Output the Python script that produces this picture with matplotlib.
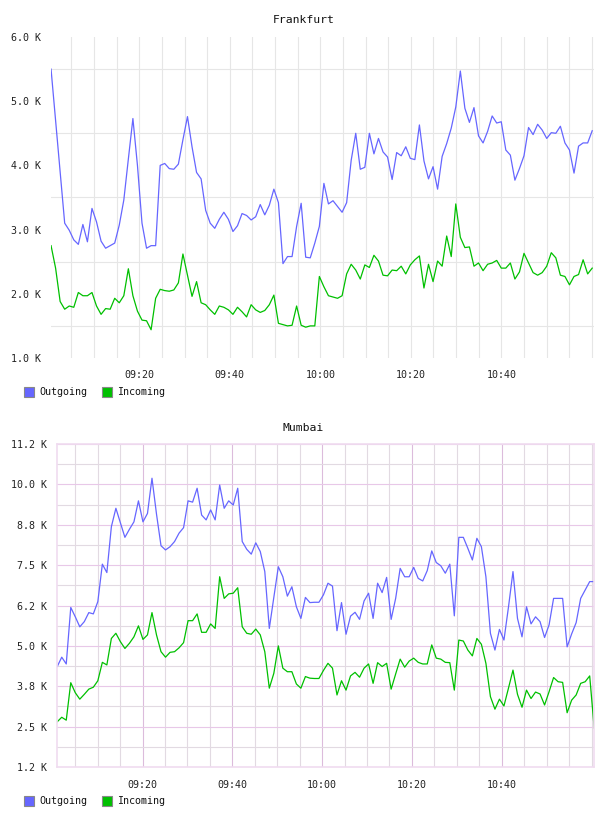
import matplotlib
matplotlib.use("Agg")
import matplotlib.pyplot as plt
from matplotlib.patches import Rectangle
import numpy as np

# values in K, one sample per minute starting ~09:00
fra_out = [5.50, 4.70, 3.90, 3.10, 2.99, 2.84, 2.77, 3.08, 2.81, 3.33,
           3.12, 2.82, 2.71, 2.75, 2.79, 3.07, 3.46, 4.10, 4.73, 4.00,
           3.10, 2.71, 2.75, 2.75, 4.00, 4.03, 3.95, 3.94, 4.02, 4.40,
           4.76, 4.29, 3.89, 3.79, 3.30, 3.10, 3.02, 3.16, 3.27, 3.16,
           2.97, 3.06, 3.25, 3.22, 3.15, 3.20, 3.39, 3.23, 3.38, 3.63,
           3.42, 2.47, 2.58, 2.58, 3.05, 3.41, 2.57, 2.56, 2.79, 3.05,
           3.72, 3.40, 3.45, 3.36, 3.27, 3.42, 4.08, 4.50, 3.94, 3.97,
           4.50, 4.18, 4.42, 4.21, 4.13, 3.78, 4.20, 4.15, 4.29, 4.11,
           4.09, 4.63, 4.07, 3.79, 3.98, 3.63, 4.14, 4.34, 4.58, 4.91,
           5.47, 4.89, 4.67, 4.90, 4.46, 4.35, 4.53, 4.77, 4.66, 4.68,
           4.24, 4.16, 3.77, 3.95, 4.15, 4.59, 4.48, 4.64, 4.55, 4.42,
           4.51, 4.50, 4.61, 4.35, 4.24, 3.88, 4.30, 4.35, 4.35, 4.54]
fra_in = [2.75, 2.40, 1.88, 1.76, 1.81, 1.79, 2.02, 1.97, 1.97, 2.02,
          1.81, 1.68, 1.77, 1.76, 1.93, 1.86, 1.97, 2.39, 1.97, 1.73,
          1.59, 1.58, 1.44, 1.93, 2.07, 2.05, 2.04, 2.06, 2.17, 2.62,
          2.29, 1.96, 2.19, 1.86, 1.83, 1.75, 1.68, 1.81, 1.79, 1.75,
          1.68, 1.79, 1.72, 1.64, 1.83, 1.75, 1.71, 1.74, 1.83, 1.98,
          1.54, 1.52, 1.50, 1.51, 1.81, 1.51, 1.48, 1.50, 1.50, 2.27,
          2.11, 1.97, 1.95, 1.93, 1.97, 2.31, 2.46, 2.37, 2.23, 2.45,
          2.41, 2.60, 2.51, 2.29, 2.28, 2.37, 2.36, 2.43, 2.31, 2.45,
          2.53, 2.59, 2.09, 2.46, 2.19, 2.51, 2.43, 2.90, 2.58, 3.40,
          2.88, 2.72, 2.73, 2.43, 2.48, 2.36, 2.46, 2.48, 2.52, 2.40,
          2.40, 2.48, 2.23, 2.34, 2.63, 2.48, 2.33, 2.29, 2.33, 2.43,
          2.64, 2.56, 2.29, 2.27, 2.14, 2.27, 2.30, 2.53, 2.31, 2.40]
mum_out = [4.36, 4.65, 4.44, 6.19, 5.90, 5.59, 5.75, 6.03, 5.99, 6.37,
           7.53, 7.27, 8.69, 9.26, 8.81, 8.36, 8.61, 8.84, 9.49, 8.84,
           9.10, 10.19, 9.08, 8.10, 7.97, 8.07, 8.23, 8.49, 8.66, 9.49,
           9.45, 9.88, 9.05, 8.90, 9.21, 8.90, 9.98, 9.26, 9.49, 9.36,
           9.88, 8.23, 7.99, 7.84, 8.19, 7.92, 7.30, 5.54, 6.50, 7.45,
           7.14, 6.54, 6.83, 6.21, 5.85, 6.50, 6.34, 6.35, 6.35, 6.58,
           6.94, 6.85, 5.47, 6.34, 5.36, 5.92, 6.04, 5.82, 6.39, 6.63,
           5.85, 6.94, 6.65, 7.12, 5.82, 6.47, 7.40, 7.14, 7.14, 7.43,
           7.09, 7.01, 7.33, 7.94, 7.58, 7.48, 7.25, 7.53, 5.93, 8.36,
           8.36, 8.02, 7.66, 8.33, 8.07, 7.14, 5.39, 4.87, 5.51, 5.18,
           6.20, 7.30, 5.85, 5.28, 6.21, 5.68, 5.90, 5.75, 5.26, 5.65,
           6.47, 6.47, 6.47, 4.97, 5.37, 5.72, 6.47, 6.73, 6.99, 6.99]
mum_in = [2.65, 2.79, 2.70, 3.86, 3.55, 3.35, 3.50, 3.66, 3.72, 3.92,
          4.49, 4.41, 5.23, 5.39, 5.13, 4.92, 5.08, 5.28, 5.62, 5.20,
          5.34, 6.03, 5.34, 4.82, 4.65, 4.80, 4.82, 4.94, 5.10, 5.78,
          5.78, 5.99, 5.42, 5.42, 5.68, 5.54, 7.14, 6.47, 6.61, 6.63,
          6.80, 5.59, 5.39, 5.36, 5.52, 5.34, 4.82, 3.69, 4.15, 5.00,
          4.31, 4.20, 4.20, 3.82, 3.69, 4.05, 4.00, 3.99, 3.99, 4.24,
          4.46, 4.31, 3.48, 3.92, 3.63, 4.07, 4.18, 4.03, 4.31, 4.44,
          3.84, 4.48, 4.36, 4.46, 3.66, 4.13, 4.59, 4.34, 4.53, 4.62,
          4.49, 4.44, 4.44, 5.03, 4.62, 4.59, 4.49, 4.48, 3.63, 5.18,
          5.15, 4.87, 4.69, 5.23, 5.05, 4.46, 3.43, 3.04, 3.35, 3.14,
          3.69, 4.25, 3.50, 3.10, 3.63, 3.37, 3.57, 3.51, 3.17, 3.58,
          4.02, 3.89, 3.87, 2.93, 3.32, 3.48, 3.84, 3.89, 4.07, 2.45]

time_ticks = [20, 40, 60, 80, 100]
time_labels = ["09:20", "09:40", "10:00", "10:20", "10:40"]

BLUE = "#6666ff"
GREEN = "#00c000"
MONO = "DejaVu Sans Mono"
W, H = 608, 816

fig = plt.figure(figsize=(W / 100, H / 100), dpi=100)


def px_axes(x0, y0, x1, y1):
    return fig.add_axes([x0 / W, 1 - y1 / H, (x1 - x0) / W, (y1 - y0) / H])


def style(ax, t0, t1, ylo, yhi, ystep, minor_col, major_col, vmajor_col, frame_col):
    ax.set_xlim(t0, t1)
    ax.set_ylim(ylo, yhi)
    ax.set_xticks(time_ticks)
    ax.set_xticklabels(time_labels)
    ax.set_xticks(np.arange(5, 121, 5), minor=True)
    yt = np.arange(ylo, yhi + 1e-6, ystep)
    ax.set_yticks(yt)
    ax.set_yticklabels(["%.1f K" % v for v in yt])
    ax.set_yticks(yt[:-1] + ystep / 2, minor=True)
    ax.tick_params(which="both", length=0)
    ax.tick_params(axis="y", pad=7, labelsize=7.2, labelcolor="#222222")
    ax.tick_params(axis="x", pad=9, labelsize=7.2, labelcolor="#222222")
    for lab in ax.get_xticklabels() + ax.get_yticklabels():
        lab.set_family(MONO)
    ax.grid(which="minor", color=minor_col, lw=0.8)
    if major_col:
        ax.grid(which="major", axis="y", color=major_col, lw=0.8)
    ax.grid(which="major", axis="x", color=vmajor_col, lw=0.8)
    ax.set_axisbelow(True)
    for s in ax.spines.values():
        if frame_col:
            s.set_color(frame_col)
            s.set_linewidth(1.2)
        else:
            s.set_visible(False)


# Frankfurt
ax1 = px_axes(51, 37, 594, 358)
t1 = 0.5 + np.arange(len(fra_out)) * 1.005
ax1.plot(t1, fra_out, color=BLUE, lw=0.9)
ax1.plot(t1, fra_in, color=GREEN, lw=0.9)
style(ax1, 0.49, 120.49, 1.0, 6.0, 1.0, "#e6e6e6", None, "#e6e6e6", None)

# Mumbai
ax2 = px_axes(57, 444, 594, 767)
t2 = 1.0 + np.arange(len(mum_out)) * 1.005
ax2.plot(t2, mum_out, color=BLUE, lw=0.9)
ax2.plot(t2, mum_in, color=GREEN, lw=0.9)
style(ax2, 0.95, 120.55, 1.25, 11.25, 1.25, "#e2dae2", "#e8c8e8", "#dcbcdc", "#f0dcf0")

fig.text(304 / W, 1 - 20 / H, "Frankfurt", ha="center", va="center",
         family=MONO, fontsize=8.2, color="#111111")
fig.text(303 / W, 1 - 428 / H, "Mumbai", ha="center", va="center",
         family=MONO, fontsize=8.2, color="#111111")


def legend(yc):
    for x0, col, name in [(24, BLUE, "Outgoing"), (102, GREEN, "Incoming")]:
        fig.add_artist(Rectangle((x0 / W, 1 - (yc + 5) / H), 10 / W, 10 / H,
                                 facecolor=col, edgecolor="#888888", lw=0.8,
                                 transform=fig.transFigure))
        fig.text((x0 + 15) / W, 1 - yc / H, name, ha="left", va="center",
                 family=MONO, fontsize=7.2, color="#111111")


legend(392)
legend(800.5)

fig.savefig("out.png", dpi=100)
